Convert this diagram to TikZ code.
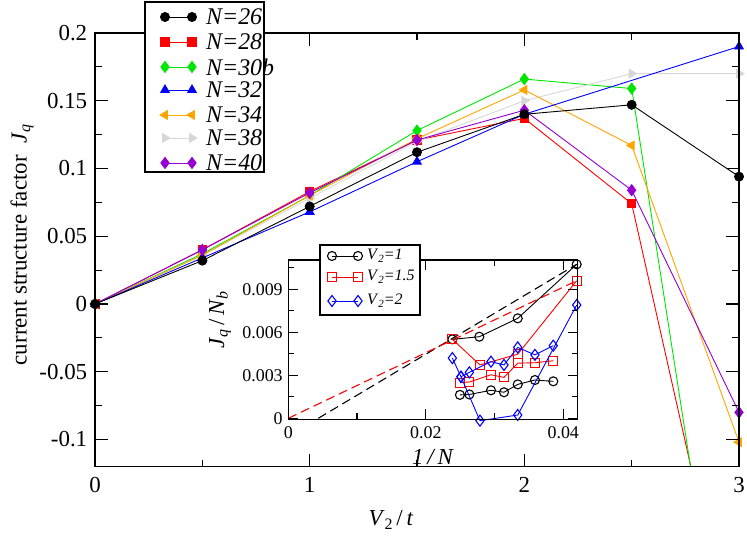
\documentclass[tikz,border=0pt]{standalone}
\usepackage{fontspec}
\setmainfont{Liberation Serif}
\usetikzlibrary{plotmarks}
\definecolor{cgreen}{RGB}{0,230,0}
\definecolor{corange}{RGB}{255,165,0}
\definecolor{cgray}{RGB}{215,215,215}
\definecolor{cpurple}{RGB}{148,0,211}
\newcommand{\itx}[1]{\textit{#1}}
\tikzset{
  ser/.style={line width=0.9bp},
  s26/.style={ser,black,mark=*,mark size=4.5bp},
  s28/.style={ser,red,mark=square*,mark size=4.2bp},
  s30/.style={ser,cgreen,mark=diamond*,mark size=5.5bp},
  s32/.style={ser,blue,mark=triangle*,mark size=5bp},
  s34/.style={ser,corange,mark=triangle*,mark size=5bp,mark options={rotate=90}},
  s38/.style={ser,cgray,mark=triangle*,mark size=5bp,mark options={rotate=-90}},
  s40/.style={ser,cpurple,mark=diamond*,mark size=5.5bp},
  i1/.style={ser,black,mark=o,mark size=4.5bp,mark options={line width=1.1bp}},
  i2/.style={ser,red,mark=square,mark size=4.5bp,mark options={line width=1.1bp}},
  i3/.style={ser,blue,mark=diamond,mark size=5.5bp,mark options={line width=1.1bp}},
  axis/.style={line width=1.6bp},
  tk/.style={line width=1.1bp},
  lab/.style={font=\fontsize{23}{23}\selectfont},
  leglab/.style={font=\fontsize{24}{24}\selectfont},
  ilab/.style={font=\fontsize{18}{18}\selectfont},
  ileglab/.style={font=\fontsize{16}{16}\selectfont},
}
\begin{document}
\begin{tikzpicture}[x=1bp,y=1bp]
\useasboundingbox (0,0) rectangle (747,545);
% ---------------- main plot
\begin{scope}[shift={(95,241)},x=214.67bp,y=1355bp]
  \begin{scope}
  \clip (0,-0.12) rectangle (3,0.2);
  \draw[s28] plot coordinates {(0,0) (0.5,0.040) (1,0.083) (1.5,0.121) (2,0.137) (2.5,0.074) (3,-0.278)};
  \draw[s30] plot coordinates {(0,0) (0.5,0.037) (1,0.080) (1.5,0.128) (2,0.166) (2.5,0.159) (3,-0.35)};
  \end{scope}
  \draw[s38] plot coordinates {(0,0) (0.5,0.036) (1,0.078) (1.5,0.120) (2,0.150) (2.5,0.170) (3,0.170)};
  \draw[s34] plot coordinates {(0,0) (0.5,0.036) (1,0.080) (1.5,0.122) (2,0.158) (2.5,0.117) (3,-0.102)};
  \draw[s32] plot coordinates {(0,0) (0.5,0.034) (1,0.068) (1.5,0.105) (2,0.140) (3,0.190)};
  \draw[s40] plot coordinates {(0,0) (0.5,0.040) (1,0.082) (1.5,0.121) (2,0.143) (2.5,0.084) (3,-0.080)};
  \draw[s26] plot coordinates {(0,0) (0.5,0.032) (1,0.072) (1.5,0.112) (2,0.140) (2.5,0.147) (3,0.094)};
  % ticks
  \foreach \v in {0,1,2,3} {
    \draw[tk] (\v,-0.12) -- ++(0,13bp);
    \draw[tk] (\v,0.2) -- ++(0,-13bp);
    \node[lab,anchor=north] (xl\v) at (\v,-0.125) {\v};
  }
  \foreach \v in {0.5,1.5,2.5} {
    \draw[tk] (\v,-0.12) -- ++(0,7bp);
    \draw[tk] (\v,0.2) -- ++(0,-7bp);
  }
  \foreach \v/\t in {0.2/0.2,0.15/0.15,0.1/0.1,0.05/0.05,0/0,-0.05/-0.05,-0.1/-0.1} {
    \draw[tk] (0,\v) -- ++(13bp,0);
    \draw[tk] (3,\v) -- ++(-13bp,0);
    \node[lab,anchor=east] at (-0.02,\v) {\t};
  }
  \foreach \v in {0.175,0.125,0.075,0.025,-0.025,-0.075} {
    \draw[tk] (0,\v) -- ++(7bp,0);
    \draw[tk] (3,\v) -- ++(-7bp,0);
  }
  \draw[axis] (0,-0.12) rectangle (3,0.2);
\end{scope}
\node[lab,rotate=90] (ylab) at (22,300) {current structure factor~~\itx{J}\raisebox{-0.35ex}{\fontsize{16}{16}\selectfont\itx{q}}};
\node[lab] (xlab) at (391,25) {\itx{V}\raisebox{-0.35ex}{\fontsize{16}{16}\selectfont 2}\,/\,\itx{t}};
% ---------------- main legend
\draw[fill=white,line width=1.3bp] (145,373) rectangle (264,543);
\foreach \y/\s/\t [count=\i] in {528/s26/26,503/s28/28,478/s30/30b,455/s32/32,430/s34/34,407/s38/38,382/s40/40} {
  \draw[\s] plot coordinates {(165,\y) (192,\y)};
  \node[leglab,anchor=west,inner sep=0] (leg\i) at (206,\y) {\textit{N=\t}};
}
% ---------------- inset
\fill[white] (288.3,125.7) rectangle (577.7,285);
\begin{scope}[shift={(288.3,126.7)},x=6875bp,y=14333bp]
  \draw[black,line width=1.1bp,dash pattern=on 9bp off 5bp] (0.00436,0) -- (0.04195,0.01074);
  \draw[red,line width=1.1bp,dash pattern=on 9bp off 5bp] (0,0) -- (0.04195,0.0096);
  \draw[i1] plot coordinates {(0.02386,0.00551) (0.02778,0.00569) (0.03337,0.00698) (0.04195,0.01074)};
  \draw[i1] plot coordinates {(0.02497,0.00163) (0.02633,0.00167) (0.02948,0.00195) (0.03137,0.00181) (0.03337,0.00237) (0.03588,0.00267) (0.03855,0.00258)};
  \draw[i2] plot coordinates {(0.02386,0.00551) (0.02788,0.00372) (0.03337,0.00447) (0.04195,0.0096)};
  \draw[i2] plot coordinates {(0.02497,0.00248) (0.02633,0.00253) (0.02948,0.00304) (0.03137,0.00286) (0.03337,0.00384) (0.03588,0.00388) (0.03855,0.00402)};
  \draw[i3] plot coordinates {(0.02386,0.00419) (0.02512,0.0029) (0.02788,-0.00017) (0.03337,0.00023) (0.04195,0.0079)};
  \draw[i3] plot coordinates {(0.02512,0.0029) (0.02633,0.00321) (0.02948,0.00395) (0.03137,0.00372) (0.03337,0.00495) (0.03588,0.00442) (0.03855,0.00507)};
  \foreach \v/\t in {0/0,0.02/0.02,0.04/0.04} {
    \draw[tk] (\v,-0.00007) -- ++(0,10bp);
    \draw[tk] (\v,0.01104) -- ++(0,-10bp);
    \node[ilab,anchor=north] at (\v,-0.0003) {\t};
  }
  \foreach \v in {0.01,0.03} {
    \draw[tk] (\v,-0.00007) -- ++(0,6bp);
    \draw[tk] (\v,0.01104) -- ++(0,-6bp);
  }
  \foreach \v/\t in {0/0,0.003/0.003,0.006/0.006,0.009/0.009} {
    \draw[tk] (0,\v) -- ++(10bp,0);
    \draw[tk] (0.0421,\v) -- ++(-10bp,0);
    \node[ilab,anchor=east] at (-0.0003,\v) {\t};
  }
  \foreach \v in {0.0015,0.0045,0.0075,0.0105} {
    \draw[tk] (0,\v) -- ++(6bp,0);
    \draw[tk] (0.0421,\v) -- ++(-6bp,0);
  }
  \draw[line width=1.3bp] (0,-0.00007) rectangle (0.0421,0.01104);
\end{scope}
\node[lab,rotate=90] (iylab) at (220,225) {\itx{J}\raisebox{-0.35ex}{\fontsize{16}{16}\selectfont\itx{q}}\,/\,\itx{N}\raisebox{-0.35ex}{\fontsize{16}{16}\selectfont\itx{b}}};
\node[lab] (ixlab) at (433,88) {\itx{1\,/\,N}};
% inset legend
\draw[fill=white,line width=1.1bp] (320,230) rectangle (420,300);
\foreach \y/\s/\t [count=\i] in {289/i1/1,268/i2/1.5,244/i3/2} {
  \draw[\s] plot coordinates {(332,\y) (358,\y)};
  \node[ileglab,anchor=west,inner sep=0] (ileg\i) at (367,\y) {\itx{V}\raisebox{-0.4ex}{\fontsize{11}{11}\selectfont\itx{2}}\itx{=\t}};
}
\end{tikzpicture}
\end{document}
